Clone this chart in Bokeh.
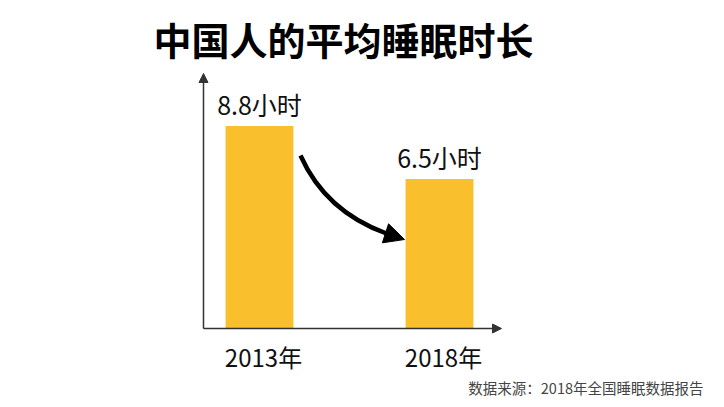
from bokeh.plotting import figure
from bokeh.models import Range1d, Arrow, NormalHead, ColumnDataSource
from bokeh.core.properties import value
from bokeh.embed import file_html
from bokeh.resources import INLINE

# ---- data ----
categories = ["2013年", "2018年"]
hours = [8.8, 6.5]
unit = "小时"
title_text = "中国人的平均睡眠时长"
source_text = "数据来源：2018年全国睡眠数据报告"

# ---- layout (pixels in the figure) ----
W, H = 716, 399
PX_X = 180.0          # pixels per category step
PX_Y = 23.0           # pixels per hour
FIRST_BAR_PX = 259    # centre of first bar, from left
BASE_PX = 328         # baseline, from top
FONT = value("Noto Sans CJK SC")

x_range = Range1d(-FIRST_BAR_PX / PX_X, (W - FIRST_BAR_PX) / PX_X)
y_range = Range1d(-(H - BASE_PX) / PX_Y, BASE_PX / PX_Y)


def px_x(px):
    return x_range.start + px / PX_X


def px_y(py):  # py measured from top
    return y_range.end - py / PX_Y


p = figure(width=W, height=H, x_range=x_range, y_range=y_range,
           output_backend="svg", toolbar_location=None,
           x_axis_location=None, y_axis_location=None, min_border=0)
p.grid.visible = False
p.outline_line_color = None
p.background_fill_color = "white"
p.border_fill_color = "white"

xs = list(range(len(categories)))
src = ColumnDataSource(dict(
    x=xs, top=hours, cat=categories,
    lab=[f"{h}{unit}" for h in hours],
    lab_y=[h + 22 / PX_Y for h in hours],
    cat_y=[-28 / PX_Y] * len(hours),
))

# bars
p.vbar(x="x", top="top", bottom=0, width=0.377, source=src,
       fill_color="#F9BF2C", line_color=None)

# value labels
p.text(x="x", y="lab_y", text="lab", source=src, text_font=FONT,
       text_font_size="25px", text_color="#111111",
       text_align="center", text_baseline="middle")

# category labels
p.text(x="x", y="cat_y", text="cat", source=src, text_font=FONT,
       text_font_size="24px", text_color="#111111", x_offset=4,
       text_align="center", text_baseline="middle")

# axes with arrow heads
AX_X = px_x(203)
AX_TOP = px_y(73)
AX_RIGHT = px_x(501)
for (xe, ye) in [(AX_X, AX_TOP), (AX_RIGHT, 0)]:
    p.add_layout(Arrow(x_start=AX_X, y_start=0, x_end=xe, y_end=ye,
                       line_color="#333333", line_width=1.5,
                       end=NormalHead(size=9, fill_color="#333333",
                                      line_color="#333333")))

# curved trend arrow
p.quadratic(x0=[px_x(300)], y0=[px_y(155)], x1=[px_x(386)], y1=[px_y(233)],
            cx=[px_x(325)], cy=[px_y(211)], line_color="black", line_width=4.5)
p.add_layout(Arrow(x_start=px_x(384), y_start=px_y(232.5),
                   x_end=px_x(404), y_end=px_y(239),
                   line_color="black", line_width=4.5,
                   end=NormalHead(size=20, fill_color="black", line_color="black")))

# title
p.text(x=[px_x(153)], y=[px_y(38)], text=[title_text], text_font=FONT,
       text_font_size="38px", text_font_style="bold", text_color="#000000",
       text_align="left", text_baseline="middle")

# source
p.text(x=[px_x(703)], y=[px_y(387)], text=[source_text], text_font=FONT,
       text_font_size="14.5px", text_color="#444444",
       text_align="right", text_baseline="middle")

open("out.html", "w").write(file_html(p, INLINE))
